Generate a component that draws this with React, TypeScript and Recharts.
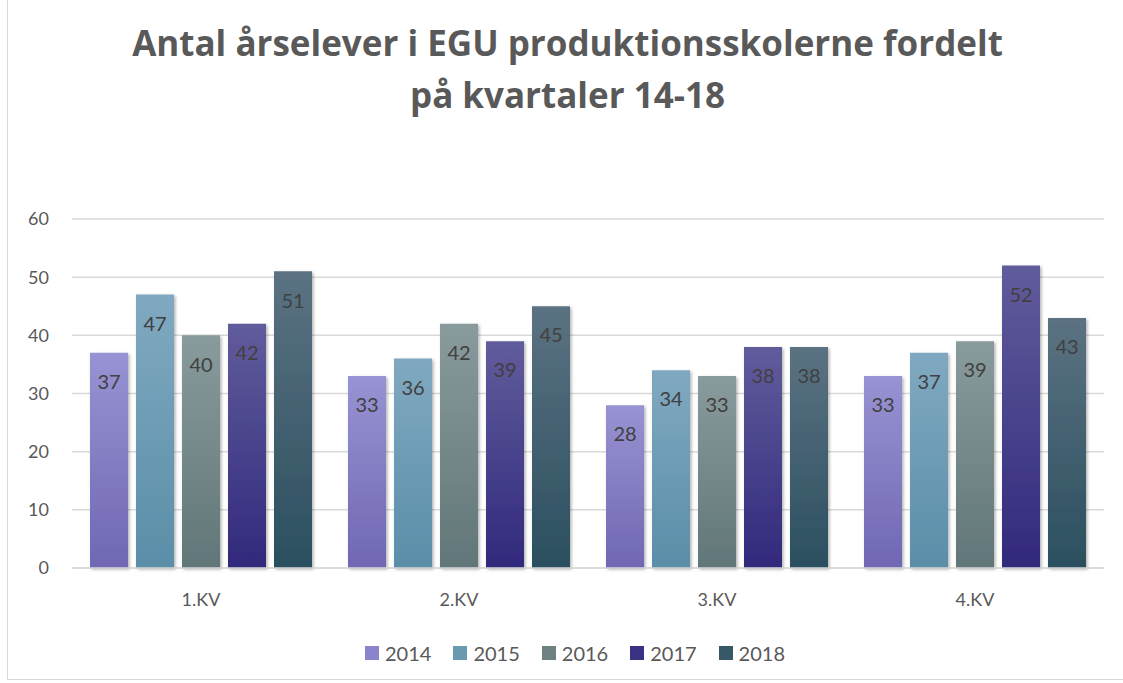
import React from 'react';
import { BarChart, Bar, XAxis, YAxis, CartesianGrid, LabelList } from 'recharts';

// Kvartaler og år
const quarters = ['1.KV', '2.KV', '3.KV', '4.KV'];
const years = ['2014', '2015', '2016', '2017', '2018'];

// Antal årselever pr. år (en værdi pr. kvartal)
const v2014 = [37, 33, 28, 33];
const v2015 = [47, 36, 34, 37];
const v2016 = [40, 42, 33, 39];
const v2017 = [42, 39, 38, 52];
const v2018 = [51, 45, 38, 43];

const yTicks = [0, 10, 20, 30, 40, 50, 60];

const seriesValues = [v2014, v2015, v2016, v2017, v2018];

// gradient top/bottom + legend swatch
const colors = [
  { top: '#9893d3', bottom: '#6f67b3', swatch: '#8a84cc' },
  { top: '#80a9c1', bottom: '#5a8ea8', swatch: '#6a9ab0' },
  { top: '#899b9c', bottom: '#617678', swatch: '#6e8282' },
  { top: '#615c9c', bottom: '#31297c', swatch: '#3a3282' },
  { top: '#5b7282', bottom: '#2b4f5f', swatch: '#365868' },
];

const data = quarters.map((q, i) => {
  const row: Record<string, string | number> = { name: q };
  years.forEach((y, j) => {
    row[y] = seriesValues[j][i];
  });
  return row;
});

const font = 'Lato, "Open Sans", sans-serif';

export default function App() {
  return (
    <div style={{ position: 'absolute', left: 0, top: 0, width: 1123, height: 683, background: '#fff', fontFamily: font, overflow: 'hidden' }}>
      {/* frame */}
      <div style={{ position: 'absolute', left: 7, top: -2, width: 1130, height: 682, border: '1px solid #d9d9d9', boxSizing: 'border-box' }} />

      <div style={{ position: 'absolute', left: 0, top: 17, width: 1135, textAlign: 'center', fontSize: 35, fontWeight: 700, color: '#595959', lineHeight: '52px', fontFamily: '"Open Sans", sans-serif' }}>
        Antal årselever i EGU produktionsskolerne fordelt
        <br />
        på kvartaler 14-18
      </div>

      <div style={{ position: 'absolute', left: 0, top: 0 }}>
        <BarChart
          width={1123}
          height={683}
          data={data}
          margin={{ top: 219, right: 19, bottom: 85, left: 0 }}
          barCategoryGap={18}
          barGap={8}
        >
          <defs>
            {colors.map((c, i) => (
              <linearGradient key={i} id={`grad${i}`} x1="0" y1="0" x2="0" y2="1">
                <stop offset="0%" stopColor={c.top} />
                <stop offset="100%" stopColor={c.bottom} />
              </linearGradient>
            ))}
            <filter id="shadow" x="-20%" y="-20%" width="140%" height="140%">
              <feDropShadow dx="1.5" dy="1.5" stdDeviation="1.5" floodColor="#000" floodOpacity="0.3" />
            </filter>
          </defs>
          <CartesianGrid vertical={false} stroke="#d9d9d9" strokeWidth={1.5} />
          <XAxis
            dataKey="name"
            axisLine={{ stroke: '#d9d9d9', strokeWidth: 1.5 }}
            tickLine={false}
            tickMargin={19}
            tick={{ fill: '#595959', fontSize: 18, fontFamily: font }}
          />
          <YAxis
            domain={[0, 60]}
            ticks={yTicks}
            axisLine={false}
            tickLine={false}
            width={72}
            tickMargin={17}
            tick={{ fill: '#595959', fontSize: 18, fontFamily: font }}
          />
          {years.map((y, i) => (
            <Bar key={y} dataKey={y} fill={`url(#grad${i})`} isAnimationActive={false} style={{ filter: 'url(#shadow)' }}>
              <LabelList dataKey={y} position="insideTop" offset={22} fill="#404040" fontSize={20} fontFamily={font} />
            </Bar>
          ))}
        </BarChart>
      </div>

      {/* legend */}
      <div style={{ position: 'absolute', left: 17, top: 641, width: 1116, display: 'flex', justifyContent: 'center', gap: 22, fontSize: 20, color: '#595959' }}>
        {years.map((y, i) => (
          <div key={y} style={{ display: 'flex', alignItems: 'center', gap: 6 }}>
            <div style={{ width: 14, height: 14, background: colors[i].swatch }} />
            <span>{y}</span>
          </div>
        ))}
      </div>
    </div>
  );
}
